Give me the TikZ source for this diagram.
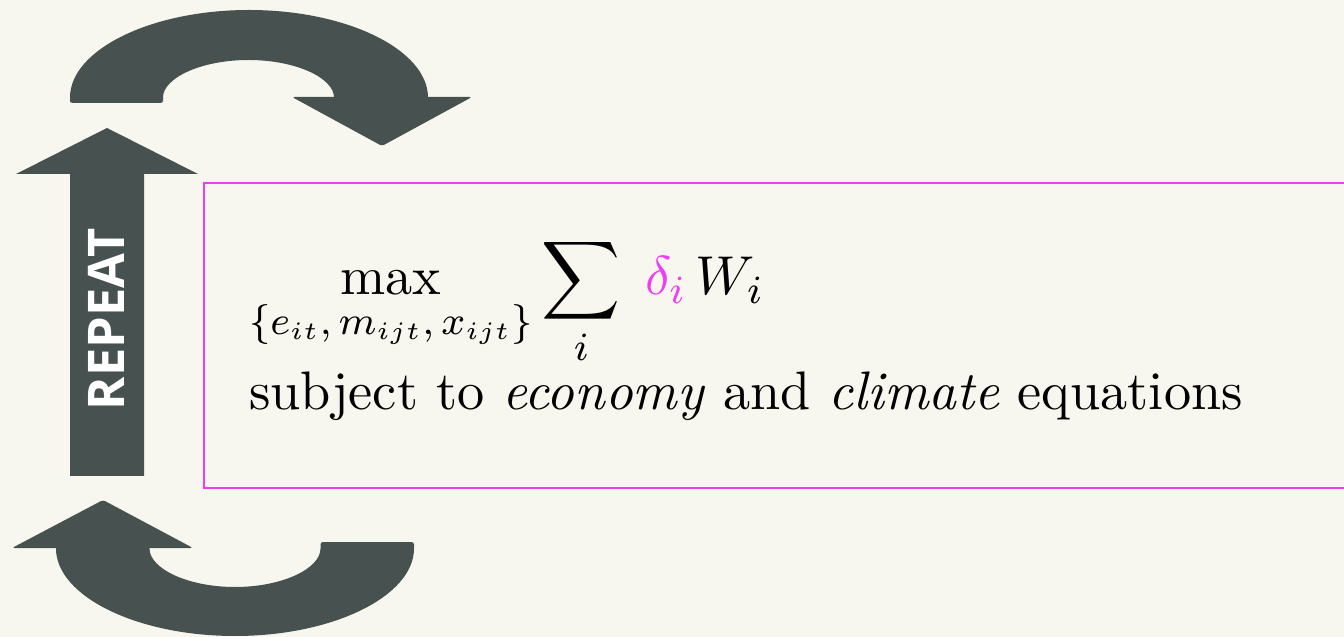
\documentclass[tikz,border=0pt]{standalone}
\usepackage{fontspec}
\newfontfamily\repeatfont{Open Sans}
\usepackage{amsmath}
\usepackage{xcolor}
\usetikzlibrary{positioning}
\definecolor{loopGray}{HTML}{47514F}
\definecolor{paperBg}{HTML}{F8F7EF}
\definecolor{weightPink}{HTML}{F23CF2}
\tikzset{
  band/.style={fill=loopGray, rounded corners=0.5pt},
  shaft/.style={fill=loopGray},
  optbox/.style={draw=weightPink, line width=0.35pt, inner sep=0pt,
    anchor=north west, minimum width=232pt, minimum height=61pt},
  eqline/.style={anchor=base west, inner sep=0pt,
    font=\fontsize{10.85}{13}\selectfont},
  tag/.style={rotate=90, text=white, inner sep=0pt,
    font=\repeatfont\fontsize{10.1}{12}\selectfont\bfseries}
}

\begin{document}
\begin{tikzpicture}[x=0.2pt,y=0.2pt]
  \useasboundingbox (0,0) rectangle (1344,-637);
  \clip (0,0) rectangle (1344,-637);
  \fill[paperBg] (0,0) rectangle (1344,-637);

  % loop on top
  \fill[band] (70,-103) -- (70,-100) arc[start angle=180,end angle=0,x radius=179,y radius=90]
    -- (334,-100) arc[start angle=0,end angle=180,x radius=85.5,y radius=40]
    -- (163,-103) -- cycle;
  \fill[band] (292,-97) -- (472,-97) -- (382,-146) -- cycle;

  % upward arrow
  \fill[shaft] (70,-476) -- (70,-174) -- (16,-174) -- (107,-128) -- (198,-174)
    -- (144,-174) -- (144,-476) -- cycle;
  \node[tag] (repeat) at (106,-319) {REPEAT};

  % loop at the bottom
  \fill[band] (414,-542) -- (414,-546) arc[start angle=0,end angle=-180,x radius=179,y radius=90]
    -- (149.5,-546) arc[start angle=180,end angle=360,x radius=85.5,y radius=41]
    -- (320.5,-542) -- cycle;
  \fill[band] (12,-548) -- (193,-548) -- (103,-500) -- cycle;

  \node[optbox] (problem) at (203,-182) {};
  \node[eqline] (objective) at (248,-295)
    {$\displaystyle\max_{\{e_{it},\,m_{ijt},\,x_{ijt}\}}\sum_i\;\textcolor{weightPink}{\delta_i}\,W_i$};
  \node[eqline] (constraints) at (248,-410)
    {subject to \emph{economy} and \emph{climate} equations};
\end{tikzpicture}
\end{document}
